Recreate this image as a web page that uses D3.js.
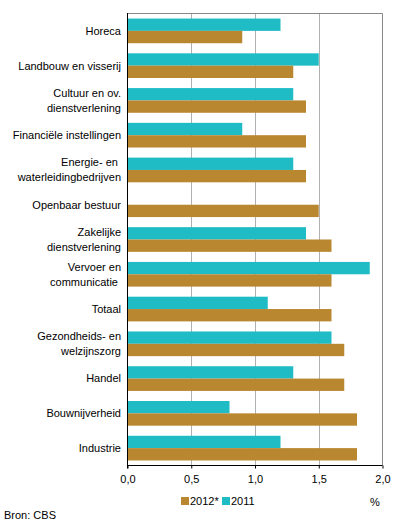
<!DOCTYPE html>
<html>
<head>
<meta charset="utf-8">
<script src="https://cdn.jsdelivr.net/npm/d3@7"></script>
<style>
  body { margin: 0; background: #fff; }
  text { font-family: "Liberation Sans", Arial, sans-serif; font-size: 11px; fill: #000; }
</style>
</head>
<body>
<svg id="chart" width="396" height="528"></svg>
<script>
// categories, top to bottom (lines split with |)
var categories = [
  'Horeca', 'Landbouw en visserij', 'Cultuur en ov.|dienstverlening',
  'Financiële instellingen', 'Energie- en |waterleidingbedrijven',
  'Openbaar bestuur', 'Zakelijke|dienstverlening', 'Vervoer en|communicatie ',
  'Totaal', 'Gezondheids- en|welzijnszorg', 'Handel', 'Bouwnijverheid', 'Industrie'
];
var values2011 = [1.2, 1.5, 1.3, 0.9, 1.3, null, 1.4, 1.9, 1.1, 1.6, 1.3, 0.8, 1.2];
var values2012 = [0.9, 1.3, 1.4, 1.4, 1.4, 1.5, 1.6, 1.6, 1.6, 1.7, 1.7, 1.8, 1.8];
var xTicks = [0, 0.5, 1, 1.5, 2];
var seriesNames = ['2012*', '2011'];
var colors = { '2012*': '#ba8731', '2011': '#1fbcc6' };

(function (d3) {
  'use strict';
  var svg = d3.select('#chart');
  var left = 127.5, right = 382.5, top = 13.5, bottom = 465.5;

  var x = d3.scaleLinear().domain([0, 2]).range([left, right]);
  var y = d3.scaleBand().domain(categories).range([top, bottom]).paddingInner(0.29).paddingOuter(0.145);

  // gridlines
  svg.append('g').selectAll('line').data(xTicks.slice(1, -1)).enter().append('line')
    .attr('x1', function (d) { return Math.round(x(d)) + 0.5; })
    .attr('x2', function (d) { return Math.round(x(d)) + 0.5; })
    .attr('y1', top).attr('y2', bottom)
    .attr('stroke', '#b0b0b0').attr('stroke-width', 1);

  // top and right frame
  svg.append('path')
    .attr('d', 'M' + left + ',' + top + 'H' + right + 'V' + bottom)
    .attr('fill', 'none').attr('stroke', '#888').attr('stroke-width', 1);

  // bars
  var bh = y.bandwidth() / 2;
  var bars = svg.append('g');
  bars.selectAll('.b2011').data(categories).enter().append('rect')
    .filter(function (d, i) { return values2011[i] != null; })
    .attr('x', left)
    .attr('y', function (d) { return y(d); })
    .attr('width', function (d) { return x(values2011[categories.indexOf(d)]) - left; })
    .attr('height', bh)
    .attr('fill', colors['2011']);
  bars.selectAll('.b2012').data(categories).enter().append('rect')
    .attr('x', left)
    .attr('y', function (d) { return y(d) + bh; })
    .attr('width', function (d, i) { return x(values2012[i]) - left; })
    .attr('height', bh)
    .attr('fill', colors['2012*']);

  // category labels
  var labels = svg.append('g').selectAll('text').data(categories).enter().append('text')
    .attr('text-anchor', 'end')
    .attr('transform', function (d) { return 'translate(121,' + (y(d) + y.bandwidth() / 2) + ')'; })
    .style('white-space', 'pre');
  labels.each(function (d) {
    var lines = d.split('|');
    var t = d3.select(this);
    lines.forEach(function (line, i) {
      t.append('tspan').attr('x', 0)
        .attr('y', (i - (lines.length - 1) / 2) * 15)
        .attr('dy', '0.35em')
        .text(line);
    });
  });

  // axes
  var xAxis = d3.axisBottom(x).tickValues(xTicks).tickSize(3).tickPadding(7)
    .tickFormat(function (d) { return d3.format('.1f')(d).replace('.', ','); });
  var gx = svg.append('g').attr('transform', 'translate(0,' + bottom + ')').call(xAxis);
  gx.select('.domain').attr('stroke', '#000').attr('d', 'M' + left + ',0H' + right);
  gx.selectAll('.tick line').attr('stroke', '#000');
  gx.selectAll('.tick text').attr('font-size', null).attr('font-family', null);

  svg.append('line').attr('x1', left).attr('x2', left).attr('y1', top - 0.5).attr('y2', bottom + 3)
    .attr('stroke', '#000');

  // legend
  var legend = svg.append('g').attr('transform', 'translate(181,497)');
  var lx = [0, 41];
  seriesNames.forEach(function (name, i) {
    legend.append('rect').attr('x', lx[i]).attr('y', 0).attr('width', 8).attr('height', 8)
      .attr('fill', colors[name]);
    legend.append('text').attr('x', lx[i] + 9).attr('y', 4).attr('dy', '0.35em').text(name);
  });

  svg.append('text').attr('x', 375).attr('y', 502).attr('dy', '0.35em')
    .attr('text-anchor', 'middle').text('%');
  svg.append('text').attr('x', 4).attr('y', 515).attr('dy', '0.35em').text('Bron: CBS');
})(d3);
</script>
</body>
</html>
